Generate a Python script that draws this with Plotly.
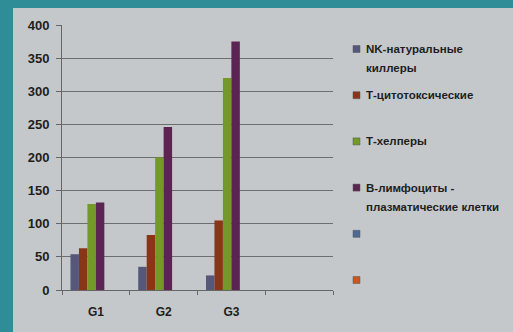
import plotly.graph_objects as go

# Categories and series
groups = ["G1", "G2", "G3", " "]
series_names = [
    "NK-натуральные<br>киллеры",
    "Т-цитотоксические",
    "Т-хелперы",
    "В-лимфоциты -<br>плазматические клетки",
    "",
    "",
]
nk_killers = [54, 35, 22, None]
t_cytotoxic = [63, 83, 105, None]
t_helpers = [130, 200, 320, None]
b_lymphocytes = [132, 246, 375, None]
empty_a = [None, None, None, None]
empty_b = [None, None, None, None]
series_values = [nk_killers, t_cytotoxic, t_helpers, b_lymphocytes, empty_a, empty_b]
series_colors = ["#55587a", "#8a3418", "#739a26", "#5c2452", "#4d6a96", "#c8581e"]

y_ticks = [0, 50, 100, 150, 200, 250, 300, 350, 400]

W, H = 513, 332
ML, MR, MT, MB = 62, 180, 25, 42
PW, PH = W - ML - MR, H - MT - MB

TEXT = "#1e1e1e"
FONT = "Liberation Sans"


def px_x(p):
    return (p - ML) / PW


def px_y(p):
    return (H - MB - p) / PH


fig = go.Figure()
for name, vals, col in zip(series_names, series_values, series_colors):
    fig.add_trace(go.Bar(x=groups, y=vals, name=name, marker_color=col,
                         marker_line_width=0, showlegend=False))

shapes = [
    # paper sheet over the teal backdrop
    dict(type="rect", xref="paper", yref="paper", x0=px_x(13), x1=px_x(560),
         y0=px_y(400), y1=px_y(8), fillcolor="#c5c8cb", line_width=0, layer="below"),
]
annotations = []

# legend drawn as swatches plus wrapped labels, one line per annotation
leg_x = 353
leg_y0 = 49
leg_step = 46.2
line_step = 19
for i, (name, col) in enumerate(zip(series_names, series_colors)):
    yc = leg_y0 + i * leg_step
    shapes.append(dict(type="rect", xref="paper", yref="paper",
                       x0=px_x(leg_x), x1=px_x(leg_x + 7),
                       y0=px_y(yc + 3.5), y1=px_y(yc - 3.5),
                       fillcolor=col, line=dict(color="#555", width=0.5)))
    if name:
        for j, line in enumerate(name.split("<br>")):
            annotations.append(dict(xref="paper", yref="paper",
                                    x=px_x(leg_x + 11), y=px_y(yc + j * line_step),
                                    xanchor="left", yanchor="middle", align="left",
                                    text=f"<b>{line}</b>", showarrow=False,
                                    font=dict(family=FONT, size=11.5, color=TEXT)))

fig.update_layout(
    width=W, height=H,
    margin=dict(l=ML, r=MR, t=MT, b=MB),
    paper_bgcolor="#2e8d96",
    plot_bgcolor="#c5c8cb",
    barmode="group",
    bargap=0.25,
    bargroupgap=0,
    shapes=shapes,
    annotations=annotations,
    font=dict(family=FONT, size=12, color=TEXT),
    xaxis=dict(
        type="category", categoryorder="array", categoryarray=groups,
        tickson="boundaries", ticks="outside", ticklen=4, tickcolor="#666",
        showline=True, linecolor="#666", linewidth=1,
        showgrid=False, ticklabelstandoff=11,
        tickfont=dict(family=FONT, size=12, color=TEXT, weight="bold"),
    ),
    yaxis=dict(
        range=[0, 400], tickvals=y_ticks, ticks="outside", ticklen=5, tickcolor="#666",
        showline=True, linecolor="#666", linewidth=1,
        showgrid=True, gridcolor="#6e6e6e", gridwidth=1, zeroline=False,
        ticklabelstandoff=4,
        tickfont=dict(family=FONT, size=13, color=TEXT, weight="bold"),
    ),
)

fig.write_html("out.html")
